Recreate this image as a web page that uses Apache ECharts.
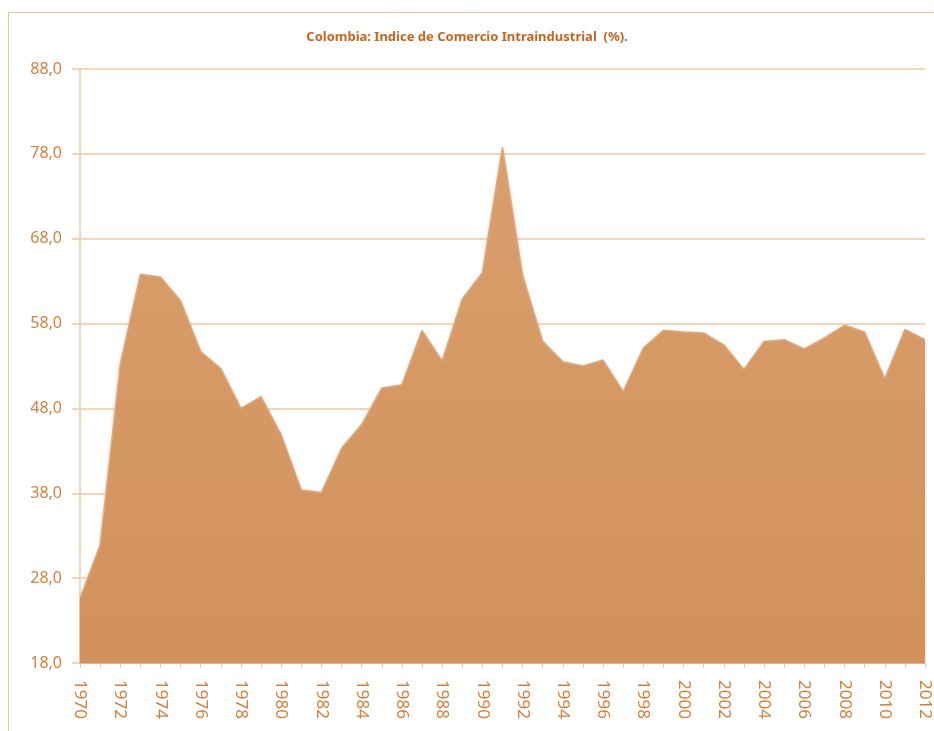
<!DOCTYPE html>
<html>
<head>
<meta charset="utf-8">
<script src="https://cdn.jsdelivr.net/npm/echarts@6/dist/echarts.min.js"></script>
<style>
html, body { margin: 0; padding: 0; background: #fff; }
#chart { width: 934px; height: 731px; }
</style>
</head>
<body>
<div id="chart"></div>
<script>
// anos 1970 - 2012
var years = [];
for (var y = 1970; y <= 2012; y++) { years.push(String(y)); }

// indice de comercio intraindustrial (%)
var indice = [
	25.6, 31.9, 53.2, 63.8, 63.5, 60.7, 54.7, 52.7, 48.0, 49.4,
	44.9, 38.4, 38.1, 43.3, 46.1, 50.4, 50.8, 57.2, 53.6, 60.9,
	64.0, 78.8, 63.7, 55.9, 53.5, 53.0, 53.7, 50.0, 55.1, 57.2,
	57.0, 56.9, 55.5, 52.6, 55.9, 56.1, 55.0, 56.3, 57.8, 57.0,
	51.5, 57.3, 56.1
];

var yTicks = { min: 18, max: 88, step: 10 };

var naranja = '#d5803c';
var lineaClara = '#f0c8a4';

var dom = document.getElementById("chart");
var myChart = echarts.init(dom);
var option = {
	backgroundColor: '#fff',
	animation: false,
	textStyle: { fontFamily: 'Noto Sans' },
	title: {
		text: 'Colombia: Indice de Comercio Intraindustrial  (%).',
		left: 'center',
		top: 26,
		textStyle: {
			color: '#c8651c',
			fontSize: 13,
			fontWeight: 'bold',
			fontFamily: 'Noto Sans'
		}
	},
	graphic: [
		{
			type: 'rect',
			shape: { x: 8.5, y: 12.5, width: 1000, height: 1000 },
			style: { fill: 'none', stroke: '#edc29c', lineWidth: 1 },
			silent: true,
			z: -1
		}
	],
	grid: { left: 80, right: 9, top: 69, bottom: 68 },
	xAxis: {
		type: 'category',
		data: years,
		boundaryGap: false,
		axisLine: { lineStyle: { color: lineaClara, width: 1 } },
		axisTick: { show: true, interval: 0, length: 5, lineStyle: { color: lineaClara } },
		axisLabel: {
			interval: 1,
			rotate: -90,
			color: naranja,
			fontSize: 17,
			margin: 17
		},
		splitLine: { show: false }
	},
	yAxis: {
		type: 'value',
		min: yTicks.min,
		max: yTicks.max,
		interval: yTicks.step,
		axisLine: { show: true, lineStyle: { color: lineaClara, width: 1.5 } },
		axisTick: { show: true, length: 8, lineStyle: { color: lineaClara, width: 1.5 } },
		axisLabel: {
			color: naranja,
			fontSize: 16,
			margin: 18,
			formatter: function (v) { return v.toFixed(1).replace('.', ','); }
		},
		splitLine: { show: true, lineStyle: { color: lineaClara, width: 1.5 } }
	},
	series: [
		{
			name: 'Indice',
			type: 'line',
			data: indice,
			symbol: 'none',
			smooth: false,
			lineStyle: { width: 1.5, color: '#dcaa7c' },
			areaStyle: {
				opacity: 1,
				color: new echarts.graphic.LinearGradient(0, 0, 0, 1, [
					{ offset: 0, color: '#d99f6d' },
					{ offset: 1, color: '#d2915c' }
				]),
				shadowColor: 'rgba(120,60,10,0.25)',
				shadowBlur: 4,
				shadowOffsetY: 2
			}
		}
	]
};

if (option && typeof option === "object") {
	myChart.setOption(option, true);
}
</script>
</body>
</html>
